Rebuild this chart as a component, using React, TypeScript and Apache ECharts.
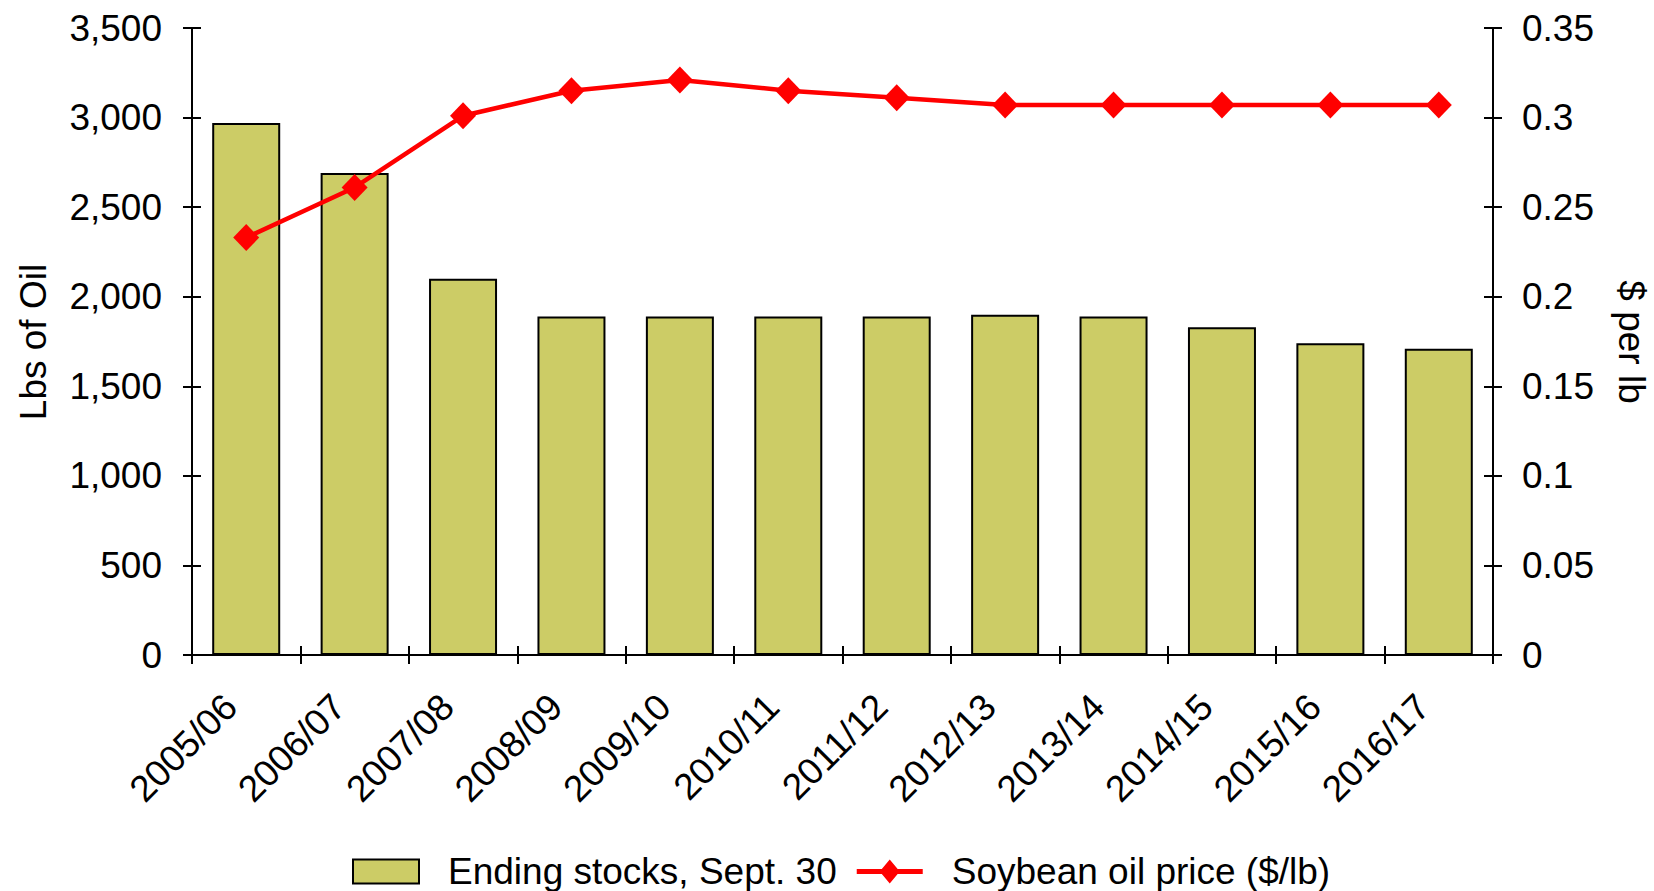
import React, { useEffect, useRef } from "react";
import * as echarts from "echarts";

const categories = [
  "2005/06", "2006/07", "2007/08", "2008/09", "2009/10", "2010/11",
  "2011/12", "2012/13", "2013/14", "2014/15", "2015/16", "2016/17",
];
const endingStocks = [2970, 2690, 2100, 1890, 1890, 1890, 1890, 1900, 1890, 1830, 1740, 1710];
const oilPrice = [0.233, 0.261, 0.301, 0.315, 0.321, 0.315, 0.311, 0.307, 0.307, 0.307, 0.307, 0.307];
const leftTicks = { min: 0, max: 3500, interval: 500 };
const rightTicks = { min: 0, max: 0.35, interval: 0.05 };
const leftTitle = "Lbs of Oil";
const rightTitle = "$ per lb";

const FONT = "'Liberation Sans', Arial, sans-serif";
const FS = 37;
const LINE_LEGEND_ICON =
  "path://M0,9.5 L66,9.5 L66,14.5 L0,14.5 Z M23,12 L33,0 L43,12 L33,24 Z";

export default function App() {
  const ref = useRef<HTMLDivElement>(null);
  useEffect(() => {
    if (!ref.current) return;
    const chart = echarts.init(ref.current, null, { renderer: "svg" });
    const axisLine = { show: true, lineStyle: { color: "#000", width: 2 } };
    const tickOut = { show: true, inside: false, length: 9, lineStyle: { color: "#000", width: 2 } };
    const tickIn = { show: true, inside: true, length: 9, lineStyle: { color: "#000", width: 2 } };
    const labelStyle = { color: "#000", fontSize: FS, fontFamily: FONT };
    chart.setOption({
      animation: false,
      backgroundColor: "#fff",
      textStyle: { fontFamily: FONT },
      grid: {
        left: 192,
        right: 161,
        top: 28,
        bottom: 236,
        containLabel: false,
        outerBoundsMode: "none",
      },
      xAxis: [
        {
          type: "category",
          data: categories,
          position: "bottom",
          boundaryGap: true,
          axisLine,
          axisTick: { ...tickOut, alignWithLabel: false },
          axisLabel: { ...labelStyle, rotate: 45, margin: 30, interval: 0, padding: [0, 22, 0, 0] },
          splitLine: { show: false },
        },
        {
          type: "category",
          data: categories,
          position: "bottom",
          boundaryGap: true,
          axisLine: { show: false },
          axisTick: tickIn,
          axisLabel: { show: false },
          splitLine: { show: false },
        },
      ],
      yAxis: [
        {
          type: "value",
          position: "left",
          ...leftTicks,
          axisLine,
          axisTick: tickOut,
          splitLine: { show: false },
          axisLabel: {
            ...labelStyle,
            margin: 30,
            formatter: (v: number) => v.toLocaleString("en-US"),
          },
        },
        {
          type: "value",
          position: "right",
          ...rightTicks,
          axisLine,
          axisTick: tickOut,
          splitLine: { show: false },
          axisLabel: {
            ...labelStyle,
            margin: 29,
            formatter: (v: number) => String(Math.round(v * 100) / 100),
          },
        },
        {
          type: "value",
          position: "left",
          ...leftTicks,
          axisLine: { show: false },
          axisTick: tickIn,
          axisLabel: { show: false },
          splitLine: { show: false },
        },
        {
          type: "value",
          position: "right",
          ...rightTicks,
          axisLine: { show: false },
          axisTick: tickIn,
          axisLabel: { show: false },
          splitLine: { show: false },
        },
      ],
      legend: {
        left: 347,
        top: 848,
        itemGap: 20,
        itemWidth: 66,
        itemHeight: 24,
        textStyle: { color: "#000", fontSize: FS, fontFamily: FONT, padding: [0, 0, 0, 24] },
        data: [
          { name: "Ending stocks, Sept. 30", icon: "rect" },
          {
            name: "Soybean oil price ($/lb)",
            icon: LINE_LEGEND_ICON,
            itemStyle: { color: "#FF0000", borderWidth: 0 },
          },
        ],
      },
      graphic: [
        {
          type: "text",
          x: 33,
          y: 342,
          rotation: Math.PI / 2,
          style: {
            text: leftTitle,
            fill: "#000",
            font: `${FS}px ${FONT}`,
            align: "center",
            verticalAlign: "middle",
          },
        },
        {
          type: "text",
          x: 1631,
          y: 342,
          rotation: -Math.PI / 2,
          style: {
            text: rightTitle,
            fill: "#000",
            font: `${FS}px ${FONT}`,
            align: "center",
            verticalAlign: "middle",
          },
        },
      ],
      series: [
        {
          name: "Ending stocks, Sept. 30",
          type: "bar",
          xAxisIndex: 0,
          yAxisIndex: 0,
          data: endingStocks,
          barWidth: 68,
          itemStyle: { color: "#CCCC66", borderColor: "#000", borderWidth: 2 },
        },
        {
          name: "Soybean oil price ($/lb)",
          type: "line",
          xAxisIndex: 0,
          yAxisIndex: 1,
          data: oilPrice,
          symbol: "diamond",
          symbolSize: [26, 27],
          lineStyle: { color: "#FF0000", width: 4.5 },
          itemStyle: { color: "#FF0000" },
        },
      ],
    });
    return () => chart.dispose();
  }, []);
  return (
    <div
      ref={ref}
      style={{ position: "fixed", left: 0, top: 0, width: 1654, height: 891, background: "#fff" }}
    />
  );
}
